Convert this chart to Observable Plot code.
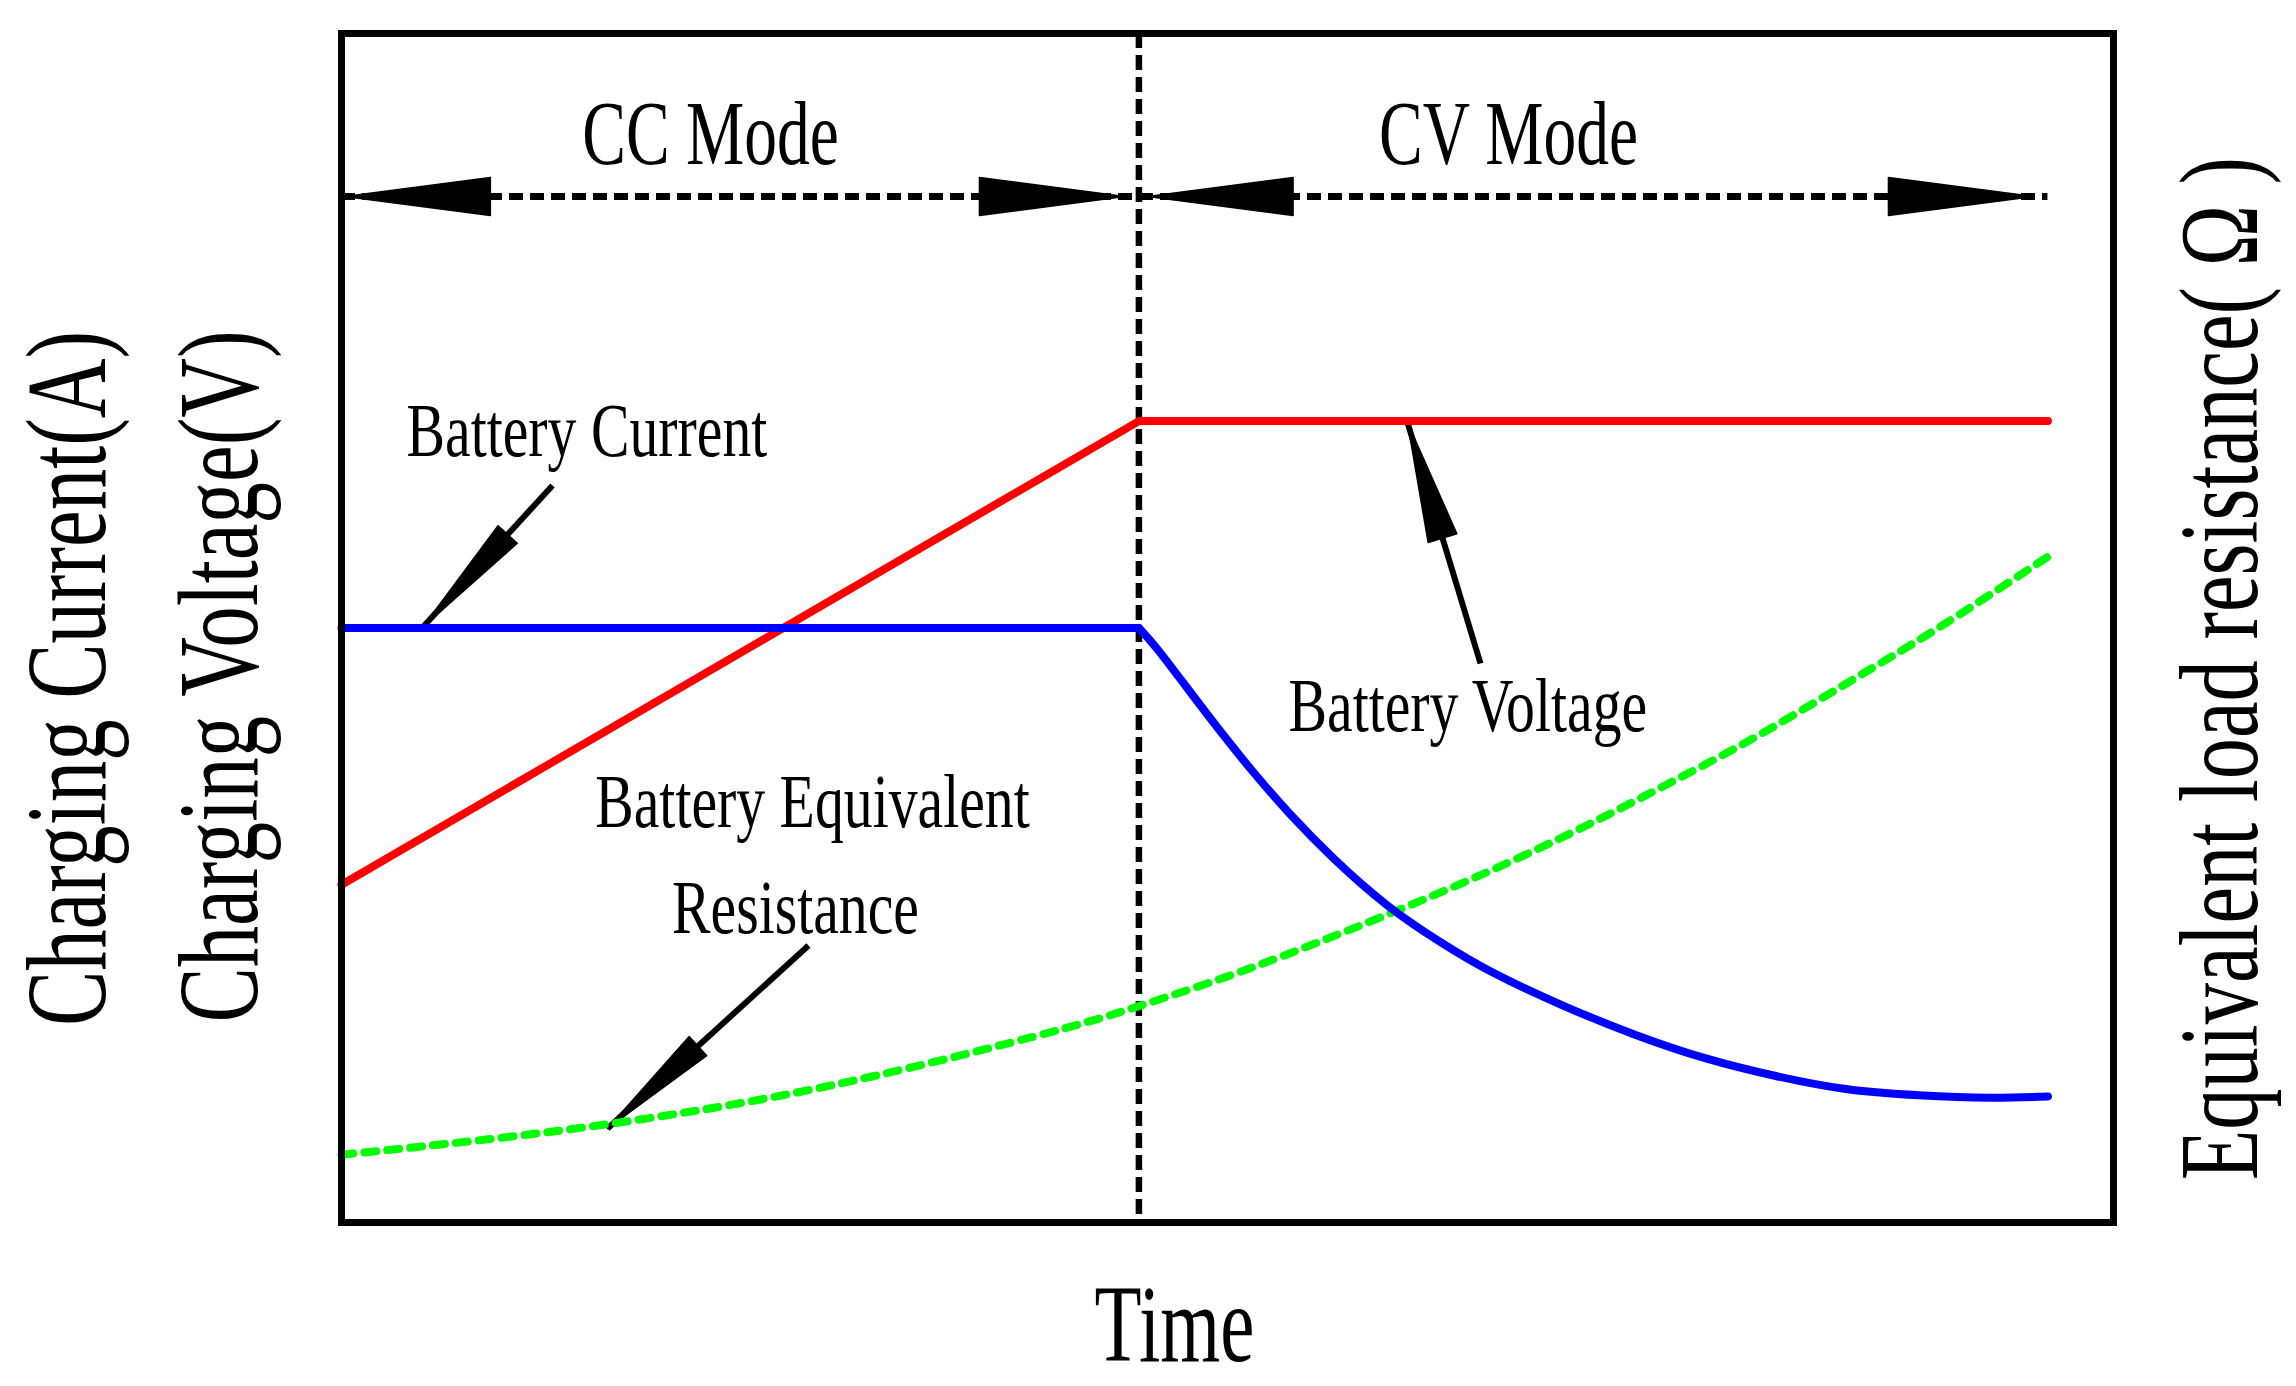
<!DOCTYPE html>
<html>
<head>
<meta charset="utf-8">
<script src="https://cdn.jsdelivr.net/npm/d3@7"></script>
<script src="https://cdn.jsdelivr.net/npm/@observablehq/plot@0.6"></script>
<style>
  html, body { margin: 0; padding: 0; background: #fff; }
  svg { display: block; }
</style>
</head>
<body>
<div id="chart"></div>
<script>
// ---------- data (time and values in arbitrary units, 0..100) ----------
const modeLabels = ["CC Mode", "CV Mode"];
const modeStart = [0, 45];
const modeEnd = [45, 96.3];

const voltageTime = [0, 45, 96.3];
const voltageValue = [28.4, 67.4, 67.4];

const currentTime = [0, 45, 46, 47.5, 49.5, 51.5, 53.5, 56, 59, 62, 65, 69, 73, 77, 81, 85, 89, 93, 96.3];
const currentValue = [50, 50, 48.3, 45.4, 41.5, 37.8, 34.4, 30.6, 26.7, 23.6, 21.0, 18.2, 15.8, 13.8, 12.3, 11.2, 10.7, 10.5, 10.6];

const resistanceTime = [0, 10, 20, 30, 40, 45, 50, 55, 60, 65, 70, 75, 80, 85, 90, 96.3];
const resistanceValue = [5.7, 7.3, 9.4, 12.3, 16.0, 18.2, 20.7, 23.5, 26.5, 29.7, 33.2, 37.0, 41.0, 45.4, 49.9, 56.0];

const noteLabels = ["Battery Current", "Battery Voltage", "Battery Equivalent", "Resistance"];
const axisLabels = ["Charging Current(A)", "Charging Voltage(V)", "Equivalent load resistance( Ω )", "Time"];

// ---------- layout ----------
const W = 2296, H = 1386;
const ML = 341, MR = 183, MT = 33, MB = 164;
const PW = W - ML - MR, PH = H - MT - MB;
const KX = PW / 100, KY = PH / 100;
const fx = (px) => (px - ML) / KX;        // pixel -> data x
const fy = (py) => (MT + PH - py) / KY;   // pixel -> data y
const serif = "Liberation Serif, Times New Roman, serif";

const toRows = (xs, ys) => xs.map((x, i) => ({x, y: ys[i]}));
const voltage = toRows(voltageTime, voltageValue);
const current = toRows(currentTime, currentValue);
const currentFlat = current.filter(d => d.x <= modeEnd[0]);
const currentDecay = current.filter(d => d.x >= modeEnd[0]);
const resistance = toRows(resistanceTime, resistanceValue);

// triangle head builder (tip, back in data coords, half width in px)
function tri(id, tip, back, hw) {
  const dxp = (tip[0] - back[0]) * KX, dyp = -(tip[1] - back[1]) * KY;
  const L = Math.hypot(dxp, dyp);
  const nx = -dyp / L * hw, ny = dxp / L * hw;
  return [
    {id, x: tip[0], y: tip[1]},
    {id, x: back[0] + nx / KX, y: back[1] - ny / KY},
    {id, x: back[0] - nx / KX, y: back[1] + ny / KY},
    {id, x: tip[0], y: tip[1]}
  ];
}

const modeLevel = fy(196);
const headLen = 8.2, inset = 0.5;
let heads = [];
modeLabels.forEach((m, i) => {
  const a = modeStart[i] + (i === 0 ? 0.2 : inset), b = modeEnd[i] - inset - 0.3;
  heads = heads.concat(tri(m + "L", [a, modeLevel], [a + headLen, modeLevel], 19));
  heads = heads.concat(tri(m + "R", [b, modeLevel], [b - headLen, modeLevel], 19));
});

// annotation pointers
const pointers = [
  {from: [fx(552), fy(485)], to: [fx(422), fy(627)], f: 0.345, hw: 13},
  {from: [fx(1480), fy(663)], to: [fx(1407), fy(422)], f: 0.52, hw: 15},
  {from: [fx(808), fy(945)], to: [fx(607), fy(1128)], f: 0.55, hw: 13}
];
pointers.forEach((p, i) => {
  const back = [p.from[0] + (p.to[0] - p.from[0]) * p.f, p.from[1] + (p.to[1] - p.from[1]) * p.f];
  heads = heads.concat(tri("p" + i, p.to, back, p.hw));
});

// horizontal condensing of each label (the original lettering is narrow)
const stretch = new Map([
  [modeLabels[0], 0.72], [modeLabels[1], 0.72],
  [noteLabels[0], 0.76], [noteLabels[1], 0.76], [noteLabels[2], 0.76], [noteLabels[3], 0.76],
  [axisLabels[0], 0.72], [axisLabels[1], 0.72], [axisLabels[2], 0.73], [axisLabels[3], 0.70]
]);

const svg = Plot.plot({
  width: W, height: H,
  marginLeft: ML, marginRight: MR, marginTop: MT, marginBottom: MB,
  x: {domain: [0, 100], axis: null},
  y: {domain: [0, 100], axis: null},
  style: {background: "white"},
  marks: [
    Plot.ruleX([modeEnd[0]], {stroke: "black", strokeWidth: 6.5, strokeDasharray: "15,7"}),
    Plot.ruleY([modeLevel], {x1: modeStart[0], x2: modeEnd[1], stroke: "black", strokeWidth: 7, strokeDasharray: "14,7"}),
    Plot.line(heads, {x: "x", y: "y", z: "id", fill: "black", stroke: "black", strokeWidth: 1.5}),
    Plot.link(pointers, {x1: d => d.from[0], y1: d => d.from[1], x2: d => d.to[0], y2: d => d.to[1], stroke: "black", strokeWidth: 6}),
    Plot.line(resistance, {x: "x", y: "y", stroke: "#00ff00", strokeWidth: 8, strokeDasharray: "12,11", curve: "natural"}),
    Plot.line(voltage, {x: "x", y: "y", stroke: "#ff0000", strokeWidth: 8}),
    Plot.line(currentFlat, {x: "x", y: "y", stroke: "#0000ff", strokeWidth: 8}),
    Plot.line(currentDecay, {x: "x", y: "y", stroke: "#0000ff", strokeWidth: 8, curve: "natural"}),
    Plot.frame({stroke: "black", strokeWidth: 7}),
    // mode labels
    Plot.text(modeLabels, {x: [fx(710), fx(1508)], y: [fy(163), fy(163)], text: d => d, fontFamily: serif, fontSize: 91, textAnchor: "middle", lineAnchor: "bottom"}),
    // notes
    Plot.text([noteLabels[0]], {x: fx(406), y: fy(455), text: d => d, fontFamily: serif, fontSize: 76, textAnchor: "start", lineAnchor: "bottom"}),
    Plot.text([noteLabels[1]], {x: fx(1288), y: fy(730), text: d => d, fontFamily: serif, fontSize: 76, textAnchor: "start", lineAnchor: "bottom"}),
    Plot.text([noteLabels[2]], {x: fx(812), y: fy(826), text: d => d, fontFamily: serif, fontSize: 76, textAnchor: "middle", lineAnchor: "bottom"}),
    Plot.text([noteLabels[3]], {x: fx(795), y: fy(932), text: d => d, fontFamily: serif, fontSize: 76, textAnchor: "middle", lineAnchor: "bottom"}),
    // axis labels
    Plot.text([axisLabels[0]], {x: fx(104), y: fy(678), text: d => d, rotate: -90, fontFamily: serif, fontSize: 115, textAnchor: "middle", lineAnchor: "bottom"}),
    Plot.text([axisLabels[1]], {x: fx(256), y: fy(676), text: d => d, rotate: -90, fontFamily: serif, fontSize: 115, textAnchor: "middle", lineAnchor: "bottom"}),
    Plot.text([axisLabels[2]], {x: fx(2256), y: fy(668), text: d => d, rotate: -90, fontFamily: serif, fontSize: 113, textAnchor: "middle", lineAnchor: "bottom"}),
    Plot.text([axisLabels[3]], {x: fx(1174), y: fy(1360), text: d => d, fontFamily: serif, fontSize: 110, textAnchor: "middle", lineAnchor: "bottom"})
  ]
});

for (const t of svg.querySelectorAll("text")) {
  const s = stretch.get(t.textContent);
  if (!s) continue;
  const tr = t.getAttribute("transform");
  if (tr) {
    t.setAttribute("transform", tr + ` scale(${s},1)`);
  } else {
    const x = +(t.getAttribute("x") || 0), y = +(t.getAttribute("y") || 0);
    t.removeAttribute("x"); t.removeAttribute("y");
    t.setAttribute("transform", `translate(${x},${y}) scale(${s},1)`);
  }
}
document.getElementById("chart").appendChild(svg);
</script>
</body>
</html>
